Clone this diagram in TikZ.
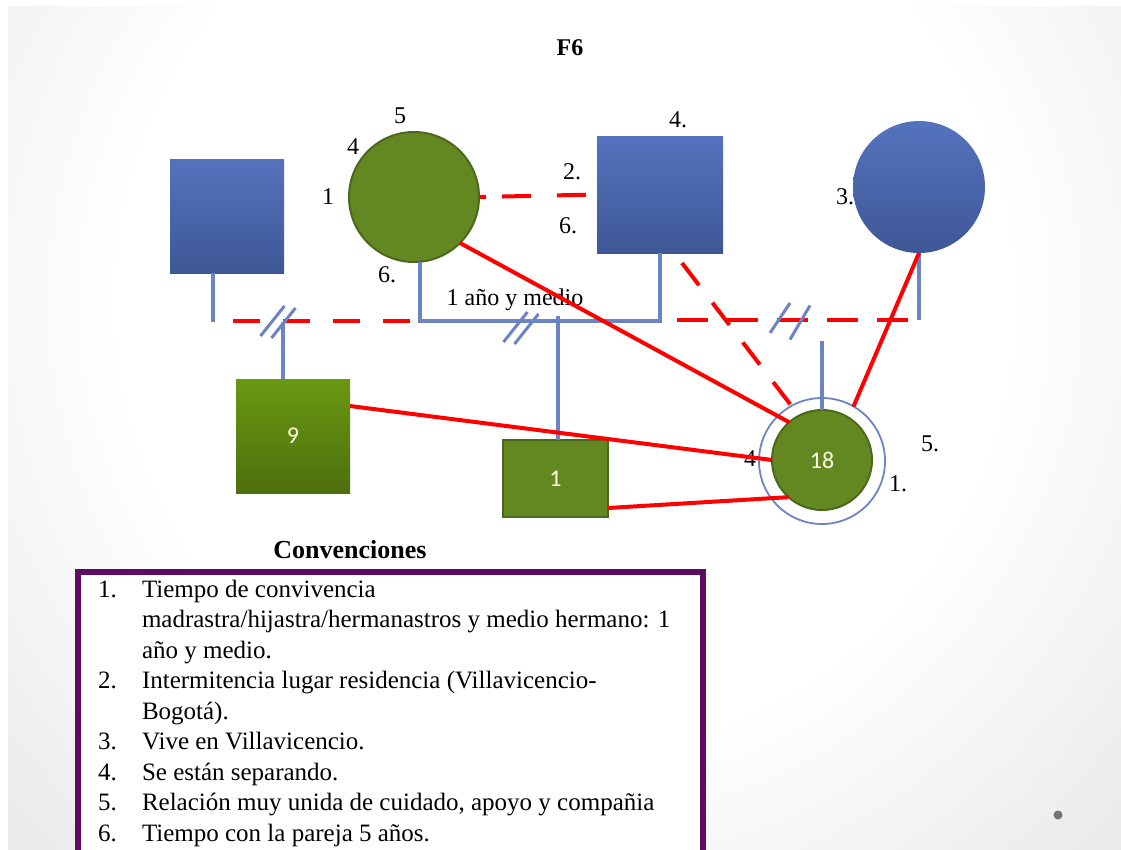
\documentclass[tikz,border=0pt]{standalone}
\usepackage{fontspec}
\setmainfont{Liberation Serif}
\newfontfamily\numfont{Carlito}
\usetikzlibrary{calc}

\definecolor{azulfig}{RGB}{85,114,189}
\definecolor{azulosc}{RGB}{62,87,150}
\definecolor{azullin}{RGB}{108,132,196}
\definecolor{verde}{RGB}{99,136,34}
\definecolor{verdeosc}{RGB}{75,105,28}
\definecolor{verdeclaro}{RGB}{104,153,17}
\definecolor{verdebajo}{RGB}{78,111,14}
\definecolor{morado}{RGB}{94,12,98}
\definecolor{rojo}{RGB}{255,0,0}

\pgfdeclareradialshading{fondo}{\pgfpoint{0bp}{0bp}}{color(0bp)=(white); color(20bp)=(white); color(50bp)=(black!17); color(72bp)=(black!23)}

\begin{document}
\begin{tikzpicture}[x=1pt, y=-1pt,
  every node/.style={inner sep=0, outer sep=0},
  hombre/.style={rectangle, top color=azulfig, bottom color=azulosc},
  mujer/.style={circle, top color=azulfig, bottom color=azulosc},
  hijo/.style={rectangle, top color=verdeclaro, bottom color=verdebajo},
  verdefig/.style={fill=verde, draw=verdeosc, line width=2},
  azul/.style={draw=azullin, line width=3.5},
  fuerte/.style={draw=rojo, line width=4},
  discont/.style={draw=rojo, line width=4, dash pattern=on 27 off 23},
  etiq/.style={font=\fontsize{24}{28}\selectfont},
  cifra/.style={font=\numfont\fontsize{24}{28}\selectfont, text=white!88!yellow}]

  \useasboundingbox (0,0) rectangle (1121,849);
  \clip (0,0) rectangle (1121,849);
  \fill[white] (0,0) rectangle (1121,849);
  \begin{scope}
    \clip (8,6) rectangle (1121,849);
    \shade[shading=fondo] (8,-260) rectangle (1121,860);
  \end{scope}
  \fill[black!55] (1058,815) circle (4.5);

  \node[font=\bfseries\fontsize{24}{28}\selectfont] (titulo) at (570,48) {F6};

  % personas
  \node[hombre, minimum size=114] (tio) at (227,216) {};
  \node[circle, verdefig, minimum size=130] (madrastra) at (414,197) {};
  \node[hombre, minimum width=126, minimum height=117] (padre) at (660,194.5) {};
  \node[mujer, minimum size=132] (madre) at (919,187) {};
  \node[hijo, minimum size=114] (hno9) at (293,436) {};
  \node[cifra] (c9) at (hno9) {9};
  \node[rectangle, verdefig, minimum width=105, minimum height=77] (hno1) at (555.5,478.5) {};
  \node[cifra] (c1) at (hno1) {1};
  \node[circle, draw=azullin, line width=1.8, minimum size=126] (egoring) at (822,461) {};
  \node[circle, verdefig, minimum size=100] (ego) at (822,460) {};
  \node[cifra] (c18) at (ego) {18};

  % etiquetas
  \node[etiq] (e5) at (400,116) {5};
  \node[etiq] (e4) at (353,147) {4};
  \node[etiq] (e1) at (328,197) {1};
  \node[etiq] (e6a) at (387,275) {6.};
  \node[etiq] (e2) at (572,172) {2.};
  \node[etiq] (e6b) at (568,226) {6.};
  \node[etiq] (e4b) at (678,120) {4.};
  \node[etiq] (e3) at (845,197) {3.};
  \node[etiq] (eano) at (515,300) {1 año y medio};
  \node[etiq] (e4c) at (750,459) {4};
  \node[etiq] (e1b) at (898,484) {1.};
  \node[etiq] (e5b) at (930,444) {5.};

  % lineas de parentesco
  \coordinate (jt) at (213,322);
  \coordinate (jm) at (420,321);
  \coordinate (jp) at (660,321);
  \coordinate (j9) at (283,322);
  \coordinate (j1) at (558,316);
  \coordinate (jr) at (918,320);
  \coordinate (je) at (822,341);
  \coordinate (dl) at (233,321);
  \coordinate (dr1) at (677,320);
  \coordinate (dr2) at (908,320);

  \draw[azul] (jt |- tio.south) -- (jt);
  \draw[azul] (jm |- madrastra.south) -- (jm) -- (jp) -- (padre.south);
  \draw[azul] (j9) -- (j9 |- hno9.north);
  \draw[azul] (j1) -- (j1 |- hno1.north);
  \draw[azul] (madre.south) -- (madre.south |- jr);
  \draw[azul] (je) -- (ego.north);

  \draw[discont] (dl) -- (jm);
  \draw[discont, dash pattern=on 31 off 19] (dr1) -- (dr2);
  \draw[discont, dash pattern=on 7 off 16 on 29 off 26 on 29 off 40] (madrastra.east) -- (padre.west);

  % separaciones
  \coordinate (s1) at (278,322);
  \coordinate (s2) at (521,328);
  \coordinate (s3) at (792,321);
  \draw[azul, line width=3] (s1) ++(-17.5,14) -- ++(24,-30);
  \draw[azul, line width=3] (s1) ++(-6.5,16) -- ++(24,-30);
  \draw[azul, line width=3] (s2) ++(-17.5,14) -- ++(24,-30);
  \draw[azul, line width=3] (s2) ++(-6.5,16) -- ++(24,-30);
  \draw[azul, line width=3] (s3) ++(-22,12) -- ++(20,-30);
  \draw[azul, line width=3] (s3) ++(-2,18.5) -- ++(20,-34);

  % relaciones
  \draw[fuerte] (madrastra.-45) -- (ego.131);
  \draw[fuerte] ([yshift=30]hno9.east) -- (ego.west);
  \draw[fuerte] ([yshift=-29.5]hno1.east) -- (ego.228);
  \draw[fuerte] (madre.south) -- (egoring.60);
  \draw[discont, dash pattern=on 28 off 22] ([xshift=22,yshift=-10]padre.south) -- (egoring.119);

  % convenciones
  \node[font=\bfseries\fontsize{26}{30}\selectfont, anchor=base] (conv) at (350,558) {Convenciones};
  \draw[morado, line width=5.5, fill=white] (78,572) rectangle (703,870);
  \node[anchor=base west, font=\fontsize{25}{30.5}\selectfont] (lista) at (98,597) {%
    \begin{tabular}[t]{@{}p{44pt}@{}l@{}}
      1. & Tiempo de convivencia \\
         & madrastra/hijastra/hermanastros y medio hermano: 1 \\
         & año y medio. \\
      2. & Intermitencia lugar residencia (Villavicencio- \\
         & Bogotá). \\
      3. & Vive en Villavicencio. \\
      4. & Se están separando. \\
      5. & Relación muy unida  de cuidado, apoyo y compañia \\
      6. & Tiempo con la pareja 5 años.
    \end{tabular}};
\end{tikzpicture}
\end{document}
